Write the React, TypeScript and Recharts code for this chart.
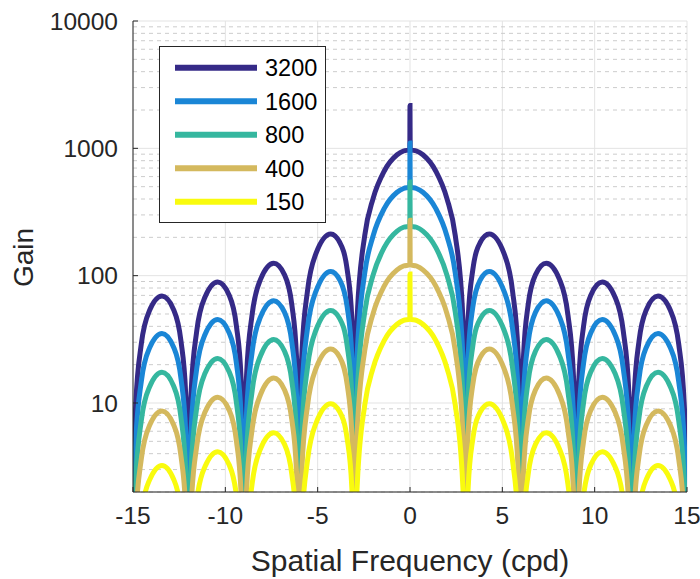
import React from 'react';
import { LineChart, Line, XAxis, YAxis, CartesianGrid, Legend, ReferenceLine } from 'recharts';

const FONT = '"Liberation Sans", Arial, Helvetica, sans-serif';
const AXIS_COLOR = '#262626';

const freq = [
  -15, -14.95, -14.85, -14.55, -14.1, -13.43, -12.8, -12.4, -12.15, -12.05,
  -12, -11.95, -11.85, -11.55, -11.1, -10.41, -9.8, -9.4, -9.15, -9.05,
  -9, -8.95, -8.85, -8.55, -8.1, -7.38, -6.8, -6.4, -6.15, -6.05,
  -6, -5.95, -5.85, -5.55, -5.1, -4.29, -3.8, -3.4, -3.15, -3.05,
  -3, -2.95, -2.85, -2.45, -2, -1.4, -0.7, -0.35, -0.01,
  0, 0.01, 0.35, 0.7, 1.4, 2, 2.45, 2.85, 2.95, 3,
  3.05, 3.15, 3.4, 3.8, 4.29, 5.1, 5.55, 5.85, 5.95, 6,
  6.05, 6.15, 6.4, 6.8, 7.38, 8.1, 8.55, 8.85, 8.95, 9,
  9.05, 9.15, 9.4, 9.8, 10.41, 11.1, 11.55, 11.85, 11.95, 12,
  12.05, 12.15, 12.4, 12.8, 13.43, 14.1, 14.55, 14.85, 14.95, 15,
];

const gain3200 = [
  0.01, 3.26, 9.81, 29.1, 53.4, 69.1, 54.1, 30.5, 12.0, 4.04,
  0.01, 4.08, 12.3, 36.6, 67.9, 89.0, 70.6, 40.3, 15.9, 5.38,
  0.01, 5.44, 16.5, 49.4, 93.0, 125, 102, 59.2, 23.7, 8.05,
  0.01, 8.19, 24.9, 76.2, 148, 212, 182, 111, 46.2, 16.0,
  0.01, 16.5, 51.1, 207, 403, 661, 890, 953, 975,
  2170, 975, 953, 890, 661, 403, 207, 51.1, 16.5, 0.01,
  16.0, 46.2, 111, 182, 212, 148, 76.2, 24.9, 8.19, 0.01,
  8.05, 23.7, 59.2, 102, 125, 93.0, 49.4, 16.5, 5.44, 0.01,
  5.38, 15.9, 40.3, 70.6, 89.0, 67.9, 36.6, 12.3, 4.08, 0.01,
  4.04, 12.0, 30.5, 54.1, 69.1, 53.4, 29.1, 9.81, 3.26, 0.01,
];

const gain1600 = [
  0.01, 1.65, 4.98, 14.8, 27.1, 35.1, 27.4, 15.5, 6.09, 2.05,
  0.01, 2.07, 6.24, 18.6, 34.5, 45.2, 35.8, 20.5, 8.08, 2.73,
  0.01, 2.76, 8.36, 25.1, 47.2, 63.6, 51.7, 30.0, 12.0, 4.09,
  0.01, 4.16, 12.6, 38.7, 75.0, 108, 92.4, 56.5, 23.5, 8.11,
  0.01, 8.39, 25.9, 105, 205, 336, 452, 484, 495,
  1100, 495, 484, 452, 336, 205, 105, 25.9, 8.39, 0.01,
  8.11, 23.5, 56.5, 92.4, 108, 75.0, 38.7, 12.6, 4.16, 0.01,
  4.09, 12.0, 30.0, 51.7, 63.6, 47.2, 25.1, 8.36, 2.76, 0.01,
  2.73, 8.08, 20.5, 35.8, 45.2, 34.5, 18.6, 6.24, 2.07, 0.01,
  2.05, 6.09, 15.5, 27.4, 35.1, 27.1, 14.8, 4.98, 1.65, 0.01,
];

const gain800 = [
  0.01, 0.82, 2.46, 7.3, 13.4, 17.4, 13.6, 7.67, 3.01, 1.02,
  0.01, 1.02, 3.09, 9.2, 17.1, 22.4, 17.7, 10.1, 4.0, 1.35,
  0.01, 1.37, 4.14, 12.4, 23.4, 31.5, 25.6, 14.9, 5.95, 2.02,
  0.01, 2.06, 6.26, 19.1, 37.1, 53.2, 45.8, 28.0, 11.6, 4.01,
  0.01, 4.15, 12.8, 52.0, 101, 166, 224, 240, 245,
  545, 245, 240, 224, 166, 101, 52.0, 12.8, 4.15, 0.01,
  4.01, 11.6, 28.0, 45.8, 53.2, 37.1, 19.1, 6.26, 2.06, 0.01,
  2.02, 5.95, 14.9, 25.6, 31.5, 23.4, 12.4, 4.14, 1.37, 0.01,
  1.35, 4.0, 10.1, 17.7, 22.4, 17.1, 9.2, 3.09, 1.02, 0.01,
  1.02, 3.01, 7.67, 13.6, 17.4, 13.4, 7.3, 2.46, 0.82, 0.01,
];

const gain400 = [
  0.01, 0.41, 1.23, 3.64, 6.68, 8.65, 6.76, 3.82, 1.5, 0.51,
  0.01, 0.51, 1.54, 4.58, 8.49, 11.1, 8.83, 5.04, 1.99, 0.67,
  0.01, 0.68, 2.06, 6.19, 11.6, 15.7, 12.7, 7.4, 2.96, 1.01,
  0.01, 1.02, 3.12, 9.53, 18.5, 26.5, 22.8, 13.9, 5.79, 2.0,
  0.01, 2.07, 6.39, 25.9, 50.4, 82.8, 111, 119, 122,
  272, 122, 119, 111, 82.8, 50.4, 25.9, 6.39, 2.07, 0.01,
  2.0, 5.79, 13.9, 22.8, 26.5, 18.5, 9.53, 3.12, 1.02, 0.01,
  1.01, 2.96, 7.4, 12.7, 15.7, 11.6, 6.19, 2.06, 0.68, 0.01,
  0.67, 1.99, 5.04, 8.83, 11.1, 8.49, 4.58, 1.54, 0.51, 0.01,
  0.51, 1.5, 3.82, 6.76, 8.65, 6.68, 3.64, 1.23, 0.41, 0.01,
];

const gain150 = [
  0.01, 0.15, 0.46, 1.36, 2.49, 3.23, 2.52, 1.43, 0.56, 0.19,
  0.01, 0.19, 0.57, 1.71, 3.17, 4.15, 3.29, 1.88, 0.74, 0.25,
  0.01, 0.25, 0.77, 2.31, 4.34, 5.84, 4.75, 2.76, 1.1, 0.38,
  0.01, 0.38, 1.16, 3.55, 6.89, 9.88, 8.5, 5.2, 2.16, 0.75,
  0.01, 0.77, 2.38, 9.66, 18.8, 30.9, 41.5, 44.5, 45.5,
  103, 45.5, 44.5, 41.5, 30.9, 18.8, 9.66, 2.38, 0.77, 0.01,
  0.75, 2.16, 5.2, 8.5, 9.88, 6.89, 3.55, 1.16, 0.38, 0.01,
  0.38, 1.1, 2.76, 4.75, 5.84, 4.34, 2.31, 0.77, 0.25, 0.01,
  0.25, 0.74, 1.88, 3.29, 4.15, 3.17, 1.71, 0.57, 0.19, 0.01,
  0.19, 0.56, 1.43, 2.52, 3.23, 2.49, 1.36, 0.46, 0.15, 0.01,
];

const seriesNames = ['3200', '1600', '800', '400', '150'];
const seriesColors = ['#352a87', '#1a86d6', '#35b79f', '#d4b95e', '#f9fb0e'];
const seriesValues = [gain3200, gain1600, gain800, gain400, gain150];

const xTicks = [-15, -10, -5, 0, 5, 10, 15];
const yTicks = [10, 100, 1000, 10000];
const yMinorTicks = [
  2, 3, 4, 5, 6, 7, 8, 9,
  20, 30, 40, 50, 60, 70, 80, 90,
  200, 300, 400, 500, 600, 700, 800, 900,
  2000, 3000, 4000, 5000, 6000, 7000, 8000, 9000,
];
const xDomain = [-15, 15];
const yDomain = [2, 10000];

const xLabel = 'Spatial Frequency (cpd)';
const yLabel = 'Gain';

const data = freq.map((f, i) => {
  const row: Record<string, number> = { f };
  seriesNames.forEach((n, k) => {
    row['g' + n] = seriesValues[k][i];
  });
  return row;
});

const tickStyle = { fill: AXIS_COLOR, fontSize: 24.5, fontFamily: FONT };

const renderXLabel = (props: any) => {
  const vb = props && props.viewBox ? props.viewBox : { x: 133, y: 492, width: 554, height: 87 };
  return (
    <text
      x={vb.x + vb.width / 2}
      y={vb.y + 79}
      textAnchor="middle"
      fill={AXIS_COLOR}
      fontSize={30}
      fontFamily={FONT}
    >
      {xLabel}
    </text>
  );
};

const renderYLabel = (props: any) => {
  const vb = props && props.viewBox ? props.viewBox : { x: 0, y: 21, width: 133, height: 471 };
  const cx = vb.x + 33;
  const cy = vb.y + vb.height / 2 + 1;
  return (
    <text
      x={cx}
      y={cy}
      transform={`rotate(-90 ${cx} ${cy})`}
      textAnchor="middle"
      fill={AXIS_COLOR}
      fontSize={28}
      fontFamily={FONT}
    >
      {yLabel}
    </text>
  );
};

const renderLegend = () => (
  <svg width={167} height={177} style={{ display: 'block' }}>
    <rect x={0.5} y={0.5} width={166} height={176} fill="#ffffff" stroke={AXIS_COLOR} strokeWidth={1} />
    {seriesNames.map((name, i) => {
      const cy = 21.7 + i * 33.5;
      return (
        <g key={name}>
          <line x1={16} x2={98} y1={cy} y2={cy} stroke={seriesColors[i]} strokeWidth={6} />
          <text
            x={106}
            y={cy}
            dy="0.36em"
            fontSize={23.5}
            fontFamily={FONT}
            fill="#000000"
          >
            {name}
          </text>
        </g>
      );
    })}
  </svg>
);

export default function App() {
  return (
    <div style={{ position: 'absolute', left: 0, top: 0, width: 700, height: 579, background: '#ffffff' }}>
      <LineChart width={700} height={579} data={data} margin={{ top: 21, right: 13, bottom: 0, left: 0 }}>
        <CartesianGrid xAxisId="f" yAxisId="g" stroke="#e3e3e3" />
        {yMinorTicks.map((v) => (
          <ReferenceLine
            key={'minor' + v}
            xAxisId="f"
            yAxisId="g"
            y={v}
            stroke="#cccccc"
            strokeWidth={1}
            strokeDasharray="4 4"
          />
        ))}
        <XAxis
          xAxisId="f"
          dataKey="f"
          type="number"
          domain={xDomain}
          ticks={xTicks}
          interval={0}
          allowDataOverflow
          height={87}
          tickSize={-5}
          tickMargin={20}
          stroke={AXIS_COLOR}
          tick={tickStyle}
          label={renderXLabel}
        />
        <XAxis
          xAxisId="top"
          orientation="top"
          type="number"
          domain={xDomain}
          ticks={xTicks}
          interval={0}
          allowDataOverflow
          height={0}
          tick={false}
          tickSize={-5}
          stroke={AXIS_COLOR}
        />
        <YAxis
          yAxisId="g"
          type="number"
          scale="log"
          domain={yDomain}
          ticks={yTicks}
          interval={0}
          allowDataOverflow
          width={133}
          tickSize={-5}
          tickMargin={20}
          stroke={AXIS_COLOR}
          tick={tickStyle}
          label={renderYLabel}
        />
        <YAxis
          yAxisId="r"
          orientation="right"
          type="number"
          scale="log"
          domain={yDomain}
          ticks={yTicks}
          interval={0}
          allowDataOverflow
          width={0}
          tick={false}
          tickSize={-5}
          stroke={AXIS_COLOR}
        />
        <YAxis
          yAxisId="minorL"
          orientation="left"
          mirror
          type="number"
          scale="log"
          domain={yDomain}
          ticks={yMinorTicks}
          interval={0}
          allowDataOverflow
          axisLine={false}
          tick={false}
          tickSize={3}
          stroke={AXIS_COLOR}
        />
        <YAxis
          yAxisId="minorR"
          orientation="right"
          mirror
          type="number"
          scale="log"
          domain={yDomain}
          ticks={yMinorTicks}
          interval={0}
          allowDataOverflow
          axisLine={false}
          tick={false}
          tickSize={3}
          stroke={AXIS_COLOR}
        />
        <Legend
          content={renderLegend}
          layout="vertical"
          align="center"
          verticalAlign="middle"
          wrapperStyle={{ left: 159, top: 46, width: 167, height: 177 }}
        />
        {seriesNames.map((name, i) => (
          <Line
            key={name}
            xAxisId="f"
            yAxisId="g"
            dataKey={'g' + name}
            name={name}
            type="monotone"
            stroke={seriesColors[i]}
            strokeWidth={5}
            dot={false}
            activeDot={false}
            isAnimationActive={false}
          />
        ))}
      </LineChart>
    </div>
  );
}
